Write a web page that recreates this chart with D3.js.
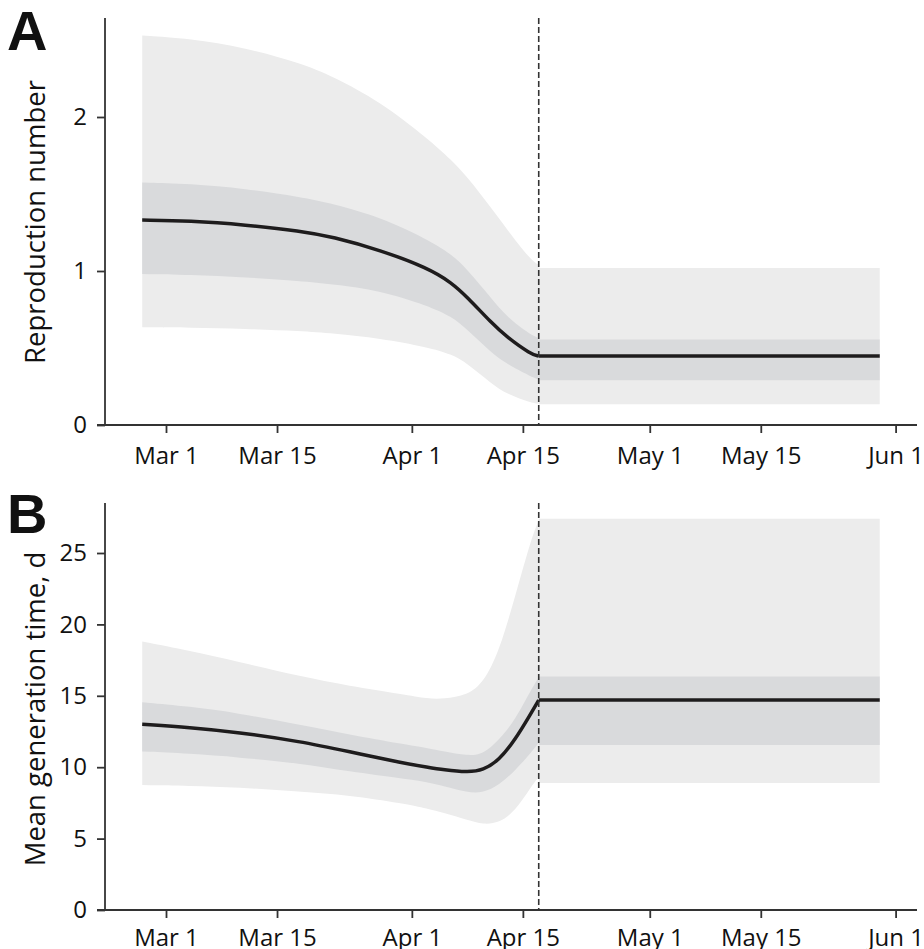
<!DOCTYPE html>
<html>
<head>
<meta charset="utf-8">
<script src="https://cdn.jsdelivr.net/npm/d3@7"></script>
<style>
  html, body { margin: 0; padding: 0; background: #fff; }
  svg { display: block; }
  text { font-family: "Open Sans", sans-serif; fill: #111; }
</style>
</head>
<body>
<svg id="chart" width="924" height="949"></svg>
<script>
// ---------------- Data ----------------
const xTickDates = ["2020-03-01","2020-03-15","2020-04-01","2020-04-15","2020-05-01","2020-05-15","2020-06-01"];
const xTickLabels = ["Mar 1","Mar 15","Apr 1","Apr 15","May 1","May 15","Jun 1"];
const interventionDate = "2020-04-17";
const datesPost = ["2020-04-17","2020-05-30"];

// Panel A: reproduction number (before intervention)
const datesA = ["2020-02-27","2020-03-04","2020-03-11","2020-03-18","2020-03-22","2020-03-28","2020-04-03","2020-04-06","2020-04-08","2020-04-11","2020-04-13","2020-04-16","2020-04-17"];
const rMedian  = [1.331, 1.326, 1.30, 1.26, 1.222, 1.136, 1.02, 0.925, 0.83, 0.665, 0.57, 0.46, 0.448];
const rInnerLo = [0.98, 0.976, 0.96, 0.935, 0.915, 0.874, 0.775, 0.705, 0.62, 0.47, 0.395, 0.315, 0.295];
const rInnerHi = [1.575, 1.567, 1.535, 1.48, 1.437, 1.35, 1.205, 1.11, 1.01, 0.825, 0.70, 0.585, 0.565];
const rOuterLo = [0.635, 0.633, 0.625, 0.61, 0.595, 0.563, 0.505, 0.46, 0.40, 0.27, 0.20, 0.145, 0.138];
const rOuterHi = [2.53, 2.51, 2.45, 2.35, 2.265, 2.10, 1.86, 1.72, 1.61, 1.41, 1.27, 1.07, 1.04];
// Panel A after intervention (constant)
const rPost = { med: 0.448, ilo: 0.29, ihi: 0.556, olo: 0.135, ohi: 1.02 };
const yTicksA = [0, 1, 2];

// Panel B: mean generation time, d (before intervention)
const datesB = ["2020-02-27","2020-03-04","2020-03-10","2020-03-18","2020-03-24","2020-03-31","2020-04-03","2020-04-05","2020-04-08","2020-04-10","2020-04-12","2020-04-14","2020-04-16","2020-04-17"];
const gMedian  = [13.0, 12.79, 12.45, 11.8, 11.1, 10.28, 10.0, 9.82, 9.64, 9.78, 10.5, 11.9, 13.75, 14.7];
const gInnerLo = [11.1, 10.95, 10.7, 10.27, 9.7, 9.2, 8.95, 8.68, 8.22, 8.2, 8.75, 9.75, 11.0, 11.7];
const gInnerHi = [14.55, 14.25, 13.8, 12.95, 12.3, 11.6, 11.35, 11.1, 10.8, 10.9, 11.9, 13.3, 15.4, 16.3];
const gOuterLo = [8.75, 8.7, 8.6, 8.28, 8.05, 7.45, 7.1, 6.8, 6.3, 5.98, 6.1, 6.9, 8.6, 9.3];
const gOuterHi = [18.8, 18.15, 17.4, 16.35, 15.7, 15.1, 14.8, 14.78, 15.05, 15.9, 18.1, 21.9, 25.9, 27.3];
// Panel B after intervention (constant)
const gPost = { med: 14.7, ilo: 11.55, ihi: 16.35, olo: 8.9, ohi: 27.4 };
const yTicksB = [0, 5, 10, 15, 20, 25];

// ---------------- Drawing ----------------
const parse = d3.utcParse("%Y-%m-%d");
const svg = d3.select("#chart");

const x = d3.scaleUtc()
  .domain([parse("2020-03-01"), parse("2020-06-01")])
  .range([166, 895.6]);

const axisLeftX = 105;
const axisXStart = 97, axisXEnd = 917;

function panel(cfg) {
  const g = svg.append("g");
  const y = d3.scaleLinear().domain(cfg.yDomain).range(cfg.yRange);
  const pre = cfg.dates.map((d, i) => ({
    date: parse(d), med: cfg.med[i], ilo: cfg.ilo[i], ihi: cfg.ihi[i], olo: cfg.olo[i], ohi: cfg.ohi[i]
  }));
  const post = datesPost.map(d => Object.assign({ date: parse(d) }, cfg.post));
  const curve = d3.curveBasis;

  const outer = d3.area().curve(curve).x(d => x(d.date)).y0(d => y(d.olo)).y1(d => y(d.ohi));
  const inner = d3.area().curve(curve).x(d => x(d.date)).y0(d => y(d.ilo)).y1(d => y(d.ihi));
  const mid = d3.line().curve(curve).x(d => x(d.date)).y(d => y(d.med));

  [pre, post].forEach(seg => {
    g.append("path").datum(seg).attr("fill", "#ececec").attr("d", outer);
  });
  [pre, post].forEach(seg => {
    g.append("path").datum(seg).attr("fill", "#d9dadc").attr("d", inner);
  });
  [pre, post].forEach(seg => {
    g.append("path").datum(seg)
      .attr("fill", "none")
      .attr("stroke", "#1e1c1d")
      .attr("stroke-width", 3.5)
      .attr("stroke-linejoin", "round")
      .attr("d", mid);
  });

  const y0px = y(0);
  // dashed intervention line
  g.append("line")
    .attr("x1", x(parse(interventionDate))).attr("x2", x(parse(interventionDate)))
    .attr("y1", cfg.axisTop).attr("y2", y0px)
    .attr("stroke", "#333").attr("stroke-width", 1.6)
    .attr("stroke-dasharray", "6,3");

  // y axis
  const ya = g.append("g").attr("transform", `translate(${axisLeftX},0)`)
    .call(d3.axisLeft(y).tickValues(cfg.yTicks).tickFormat(d3.format("d"))
      .tickSize(8).tickPadding(10).tickSizeOuter(0));
  ya.select(".domain").remove();
  ya.selectAll(".tick line").attr("stroke", "#333").attr("stroke-width", 1.8);
  ya.selectAll(".tick text").style("font-size", "24px").attr("fill", "#111");
  g.append("line").attr("x1", axisLeftX).attr("x2", axisLeftX)
    .attr("y1", cfg.axisTop).attr("y2", y0px)
    .attr("stroke", "#333").attr("stroke-width", 1.8);

  // x axis
  const xa = g.append("g").attr("transform", `translate(0,${y0px})`)
    .call(d3.axisBottom(x).tickValues(xTickDates.map(parse))
      .tickFormat((d, i) => xTickLabels[i]).tickSize(8).tickSizeOuter(0));
  xa.select(".domain").remove();
  xa.selectAll(".tick line").attr("stroke", "#333").attr("stroke-width", 1.8);
  xa.selectAll(".tick text").style("font-size", "24px").attr("fill", "#111")
    .attr("y", cfg.xLabelOffset).attr("dy", null);
  g.append("line").attr("x1", axisXStart).attr("x2", axisXEnd)
    .attr("y1", y0px).attr("y2", y0px)
    .attr("stroke", "#333").attr("stroke-width", 1.8);

  // y label
  g.append("text")
    .attr("transform", `translate(45,${cfg.labelY}) rotate(-90)`)
    .attr("text-anchor", "middle")
    .style("font-size", "27.5px")
    .text(cfg.yLabel);

  // panel letter
  g.append("text")
    .attr("x", 7).attr("y", cfg.letterY)
    .style("font-family", "'Liberation Sans', Arial, sans-serif")
    .style("font-weight", "bold")
    .style("font-size", "56px")
    .attr("fill", "#000")
    .text(cfg.letter);
}

panel({
  dates: datesA, med: rMedian, ilo: rInnerLo, ihi: rInnerHi, olo: rOuterLo, ohi: rOuterHi, post: rPost,
  yDomain: [0, 2], yRange: [425, 117], yTicks: yTicksA, axisTop: 18, xLabelOffset: 39,
  yLabel: "Reproduction number", labelY: 222, letter: "A", letterY: 50
});

panel({
  dates: datesB, med: gMedian, ilo: gInnerLo, ihi: gInnerHi, olo: gOuterLo, ohi: gOuterHi, post: gPost,
  yDomain: [0, 25], yRange: [910, 553], yTicks: yTicksB, axisTop: 503, xLabelOffset: 36,
  yLabel: "Mean generation time, d", labelY: 709, letter: "B", letterY: 533
});
</script>
</body>
</html>
